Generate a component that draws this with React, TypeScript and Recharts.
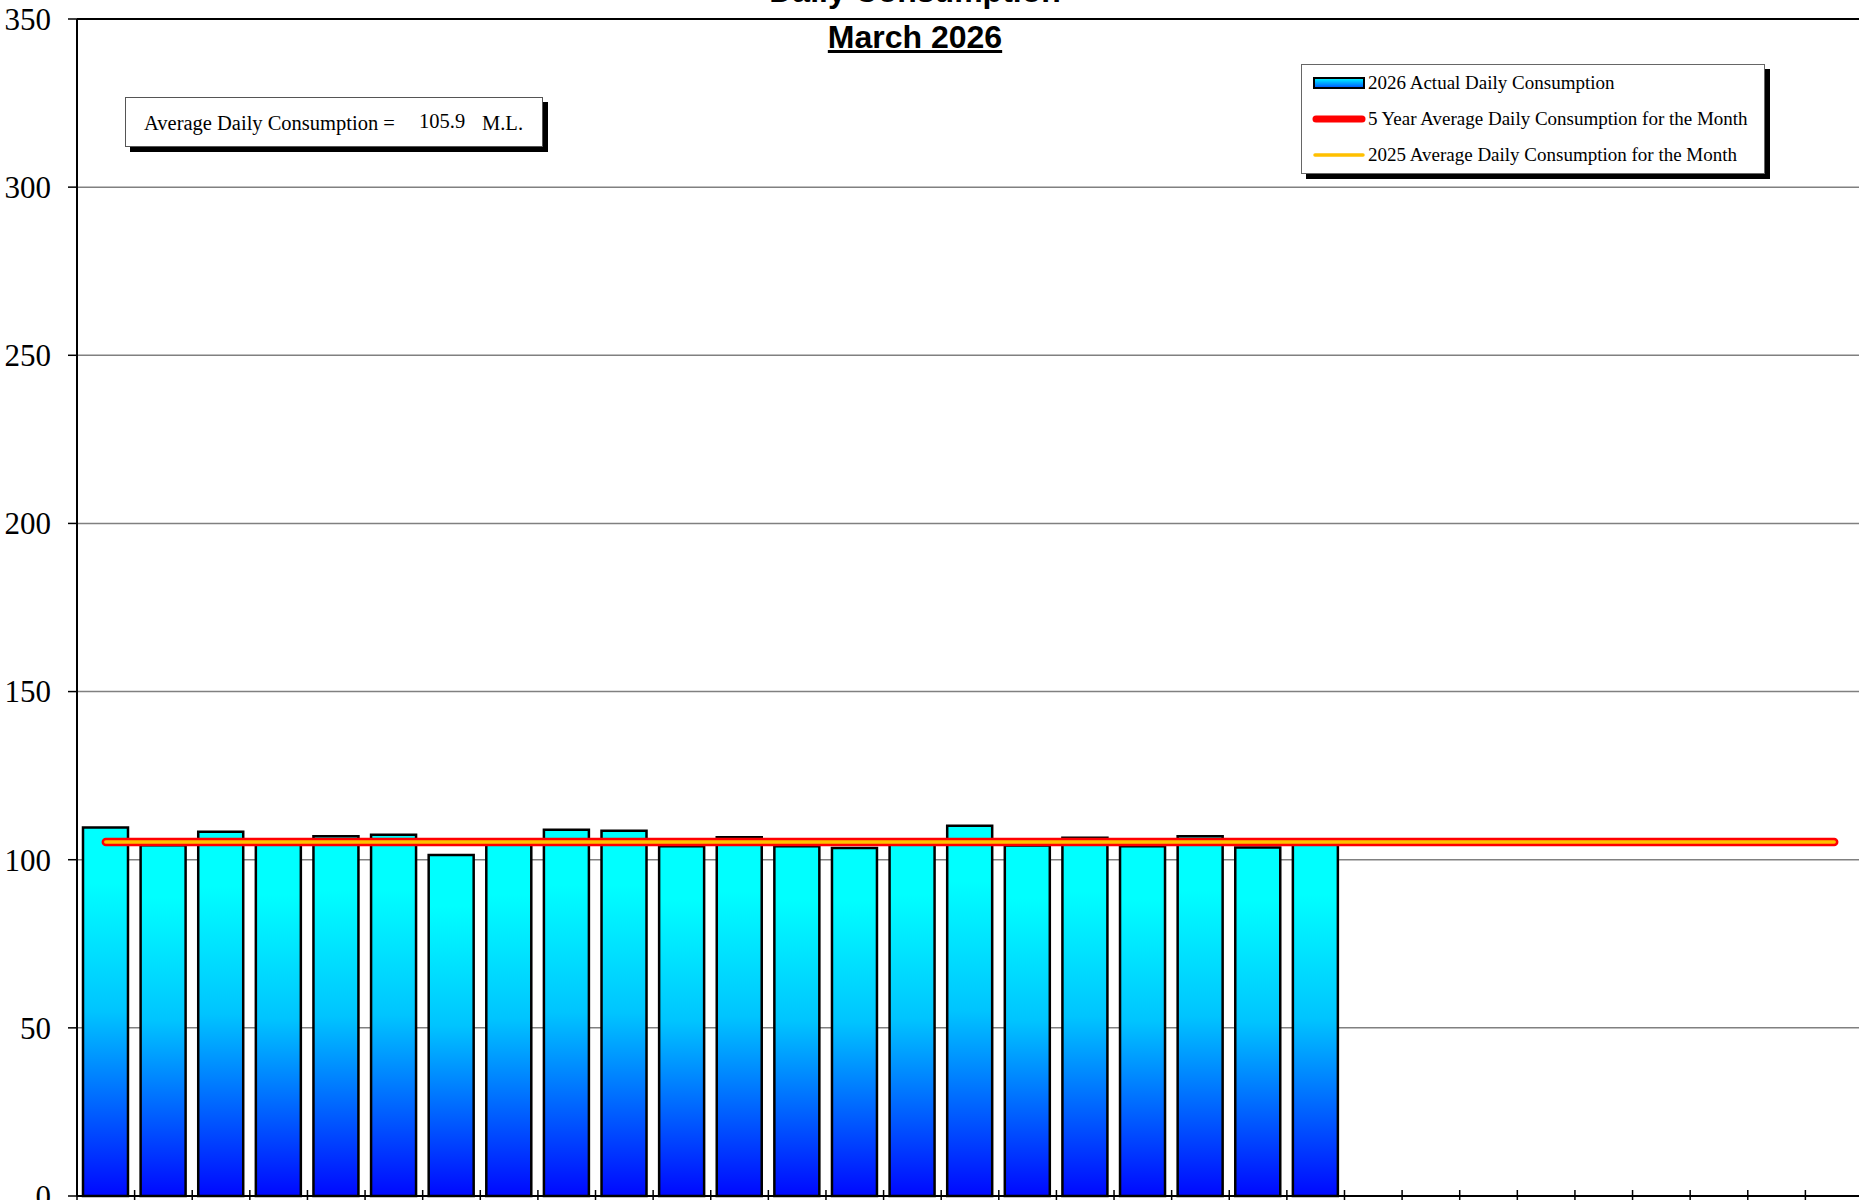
import {
  ComposedChart, Bar, Line, XAxis, YAxis, CartesianGrid, Legend, ReferenceLine,
} from 'recharts';

const days = [
  '1', '2', '3', '4', '5', '6', '7', '8', '9', '10', '11', '12', '13', '14', '15', '16',
  '17', '18', '19', '20', '21', '22', '23', '24', '25', '26', '27', '28', '29', '30', '31',
];

// 2026 actual daily consumption (M.L.), month to date
const actual2026 = [
  109.6, 104.3, 108.3, 105.5, 107.0, 107.4, 101.4, 105.5, 108.9, 108.6, 104.0,
  106.7, 104.0, 103.5, 105.5, 110.1, 104.2, 106.5, 104.0, 107.0, 103.6, 105.5,
];

const FIVE_YEAR_AVG = 105.3;
const AVG_2025 = 105.3;
const AVG_TEXT = '105.9';

const yTicks = [0, 50, 100, 150, 200, 250, 300, 350];

const rows = days.map((d, i) => ({
  day: d,
  actual: actual2026[i] ?? null,
  fiveYear: FIVE_YEAR_AVG,
  lastYear: AVG_2025,
}));

const SERIF = '"Liberation Serif", "Times New Roman", serif';
const SANS = '"Liberation Sans", Arial, sans-serif';

const BoundaryTick = ({ x, y, payload }: any) => {
  const off = payload?.offset ?? 0;
  return <line x1={x - off} x2={x - off} y1={y - 6} y2={y + 5} stroke="#000" strokeWidth={1.5} />;
};

const ValueTick = ({ x, y, payload }: any) => (
  <text
    x={x}
    y={y}
    dy="0.35em"
    textAnchor="end"
    fill="#000"
    style={{ fontFamily: SERIF, fontSize: 31 }}
  >
    {payload.value}
  </text>
);

const LegendBox = () => (
  <div
    style={{
      width: 462, height: 108, background: '#fff', border: '1px solid #666',
      boxShadow: '5px 5px 0 #000', position: 'relative', fontFamily: SERIF, fontSize: 19,
      color: '#000',
    }}
  >
    <svg width={70} height={108} style={{ position: 'absolute', left: 0, top: 0 }}>
      <defs>
        <linearGradient id="legGrad" x1="0" y1="0" x2="0" y2="1">
          <stop offset="0%" stopColor="#00FFFF" />
          <stop offset="100%" stopColor="#0050FF" />
        </linearGradient>
      </defs>
      <rect x={12} y={13} width={50} height={10} fill="url(#legGrad)" stroke="#000" strokeWidth={2} />
      <line x1={14} x2={60} y1={54} y2={54} stroke="#FF0000" strokeWidth={7} strokeLinecap="round" />
      <line x1={13} x2={61} y1={90} y2={90} stroke="#FFC000" strokeWidth={3.5} strokeLinecap="round" />
    </svg>
    <div style={{ position: 'absolute', left: 66, top: 7, whiteSpace: 'nowrap' }}>2026 Actual Daily Consumption</div>
    <div style={{ position: 'absolute', left: 66, top: 43, whiteSpace: 'nowrap' }}>5 Year Average Daily Consumption for the Month</div>
    <div style={{ position: 'absolute', left: 66, top: 79, whiteSpace: 'nowrap' }}>2025 Average Daily Consumption for the Month</div>
  </div>
);

export default function App() {
  return (
    <div
      style={{
        position: 'absolute', left: 0, top: 0, width: 1859, height: 1200,
        overflow: 'hidden', background: '#fff',
      }}
    >
      <ComposedChart
        width={1870}
        height={1240}
        data={rows}
        margin={{ top: 19, right: 7, bottom: 14, left: 0 }}
      >
        <defs>
          <linearGradient id="barGrad" x1="0" y1="0" x2="0" y2="1">
            <stop offset="0%" stopColor="#00FFFF" />
            <stop offset="15%" stopColor="#00FFFF" />
            <stop offset="50%" stopColor="#00C4FF" />
            <stop offset="100%" stopColor="#0008FF" />
          </linearGradient>
        </defs>
        <CartesianGrid vertical={false} stroke="#808080" strokeWidth={1.5} />
        <XAxis
          dataKey="day"
          height={30}
          interval={0}
          tickSize={0}
          tickMargin={0}
          tickLine={false}
          tick={<BoundaryTick />}
          axisLine={{ stroke: '#000', strokeWidth: 2 }}
        />
        <YAxis
          width={77}
          domain={[0, 350]}
          ticks={yTicks}
          interval={0}
          tickSize={9}
          tickMargin={17}
          tickLine={{ stroke: '#000', strokeWidth: 1.5 }}
          axisLine={{ stroke: '#000', strokeWidth: 2 }}
          tick={<ValueTick />}
        />
        <ReferenceLine y={350} stroke="#000" strokeWidth={2} />
        <Bar
          dataKey="actual"
          name="2026 Actual Daily Consumption"
          barSize={45}
          fill="url(#barGrad)"
          stroke="#000"
          strokeWidth={2.5}
          isAnimationActive={false}
        />
        <Line
          dataKey="fiveYear"
          name="5 Year Average Daily Consumption for the Month"
          stroke="#FF0000"
          strokeWidth={8.5}
          strokeLinecap="round"
          dot={false}
          activeDot={false}
          isAnimationActive={false}
        />
        <Line
          dataKey="lastYear"
          name="2025 Average Daily Consumption for the Month"
          stroke="#FFC000"
          strokeWidth={3.5}
          strokeLinecap="round"
          dot={false}
          activeDot={false}
          isAnimationActive={false}
        />
        <Legend
          layout="vertical"
          align="center"
          verticalAlign="middle"
          content={<LegendBox />}
          wrapperStyle={{ left: 1301, top: 64, width: 470, height: 115 }}
        />
      </ComposedChart>

      <div
        style={{
          position: 'absolute', left: 0, width: 1830, top: -25, textAlign: 'center',
          fontFamily: SANS, fontWeight: 'bold', fontSize: 32, lineHeight: '32px',
        }}
      >
        Daily Consumption
      </div>
      <div
        style={{
          position: 'absolute', left: 0, width: 1830, top: 21, textAlign: 'center',
          fontFamily: SANS, fontWeight: 'bold', fontSize: 32, lineHeight: '32px',
          textDecoration: 'underline',
        }}
      >
        March 2026
      </div>

      <div
        style={{
          position: 'absolute', left: 125, top: 97, width: 416, height: 48,
          border: '1px solid #555', background: '#fff', boxShadow: '5px 5px 0 #000',
          fontFamily: SERIF, fontSize: 20.5, lineHeight: '20px', color: '#000',
        }}
      >
        <span style={{ position: 'absolute', left: 18, top: 15, whiteSpace: 'nowrap' }}>
          Average Daily Consumption =
        </span>
        <span style={{ position: 'absolute', left: 293, top: 13 }}>{AVG_TEXT}</span>
        <span style={{ position: 'absolute', left: 356, top: 15 }}>M.L.</span>
      </div>
    </div>
  );
}
